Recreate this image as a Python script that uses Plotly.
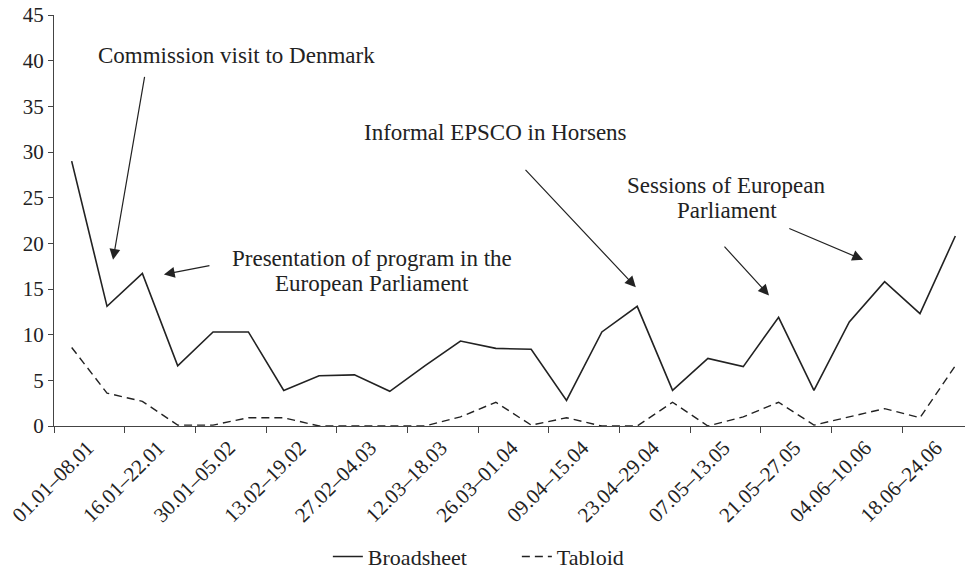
import plotly.graph_objects as go

# weekly periods, Jan-Jun
weeks = [
    "01.01–08.01", "09.01–15.01", "16.01–22.01", "23.01–29.01", "30.01–05.02",
    "06.02–12.02", "13.02–19.02", "20.02–26.02", "27.02–04.03", "05.03–11.03",
    "12.03–18.03", "19.03–25.03", "26.03–01.04", "02.04–08.04", "09.04–15.04",
    "16.04–22.04", "23.04–29.04", "30.04–06.05", "07.05–13.05", "14.05–20.05",
    "21.05–27.05", "28.05–03.06", "04.06–10.06", "11.06–17.06", "18.06–24.06",
    "25.06–01.07",
]

broadsheet = [29.0, 13.1, 16.7, 6.6, 10.3, 10.3, 3.9, 5.5, 5.6, 3.8,
              6.6, 9.3, 8.5, 8.4, 2.8, 10.3, 13.1, 3.9, 7.4, 6.5,
              11.9, 3.9, 11.4, 15.8, 12.3, 20.8]

tabloid = [8.6, 3.6, 2.7, 0.1, 0.1, 0.9, 0.9, 0.0, 0.0, 0.0,
           0.0, 1.0, 2.6, 0.1, 0.9, 0.0, 0.0, 2.6, 0.0, 1.0,
           2.6, 0.1, 1.0, 1.9, 0.9, 6.6]

x = list(range(len(weeks)))
# every other week is labelled; labels sit a little right of the point like in the print
label_pos = [p + 0.45 for p in x[::2]]
label_text = weeks[::2]

INK = "#222222"
FONT = "Liberation Serif"

fig = go.Figure()
fig.add_trace(go.Scatter(x=x, y=broadsheet, mode="lines", name="Broadsheet",
                         line=dict(color=INK, width=1.6)))
fig.add_trace(go.Scatter(x=x, y=tabloid, mode="lines", name="Tabloid",
                         line=dict(color=INK, width=1.4, dash="8px,5px")))

# arrows: (tail x, tail y, head x, head y)
arrows = [
    (2.07, 38.4, 1.17, 18.2),
    (3.94, 17.6, 2.61, 16.6),
    (12.80, 28.2, 15.96, 15.2),
    (18.43, 19.8, 19.73, 14.3),
    (20.26, 21.7, 22.39, 18.2),
]
for tx, ty, hx, hy in arrows:
    fig.add_annotation(x=hx, y=hy, ax=tx, ay=ty, xref="x", yref="y",
                       axref="x", ayref="y", text="", showarrow=True,
                       arrowhead=2, arrowsize=1.8, arrowwidth=1.2,
                       arrowcolor=INK, standoff=0)

# text labels (one per line to keep the tight line spacing)
notes = [
    ("Commission visit to Denmark", 4.66, 40.6),
    ("Presentation of program in the", 8.50, 18.3),
    ("European Parliament", 8.50, 15.55),
    ("Informal EPSCO in Horsens", 11.98, 32.1),
    ("Sessions of European", 18.54, 26.3),
    ("Parliament", 18.54, 23.55),
]
for txt, nx, ny in notes:
    fig.add_annotation(x=nx, y=ny, xref="x", yref="y", text=txt,
                       showarrow=False, font=dict(size=23, color=INK, family=FONT))

fig.update_layout(
    width=965, height=563,
    margin=dict(l=46, r=0, t=7, b=145, autoexpand=False),
    plot_bgcolor="white", paper_bgcolor="white",
    font=dict(family=FONT, color=INK, size=22),
    showlegend=True,
    legend=dict(orientation="h", x=0.298, xanchor="left", y=-0.318, yanchor="middle",
                font=dict(size=22, family=FONT), bgcolor="rgba(0,0,0,0)",
                entrywidth=144),
)
fig.update_xaxes(
    range=[-0.5, 25.5], tickvals=label_pos, ticktext=label_text, tickangle=-45,
    showgrid=False, zeroline=False, showline=True, linecolor="#444", linewidth=1.2,
    ticks="", tickfont=dict(size=21, family=FONT), automargin=False,
    ticklabeloverflow="allow",
    minor=dict(tick0=-0.5, dtick=2, ticks="outside", ticklen=6, tickcolor="#444", showgrid=False),
)
fig.update_yaxes(
    range=[0, 45], dtick=5, showgrid=False, zeroline=False, showline=True,
    linecolor="#444", linewidth=1.2, ticks="outside", ticklen=5, tickcolor="#444",
    tickfont=dict(size=21, family=FONT), automargin=False, ticklabeloverflow="allow",
)

fig.write_html("out.html")
